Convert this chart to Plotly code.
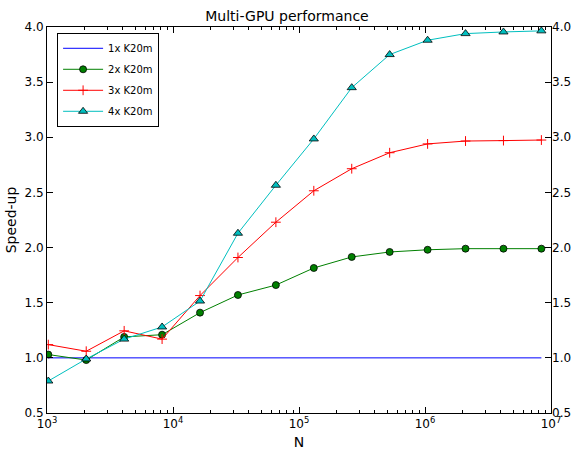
import plotly.graph_objects as go

N = [2**k for k in range(10, 24)]
labels = ["1x K20m", "2x K20m", "3x K20m", "4x K20m"]
s1 = [1.0] * 14
s2 = [1.03, 0.98, 1.19, 1.21, 1.41, 1.57, 1.66, 1.815, 1.915, 1.96, 1.98, 1.99, 1.99, 1.99]
s3 = [1.12, 1.06, 1.245, 1.17, 1.565, 1.91, 2.23, 2.515, 2.715, 2.86, 2.94, 2.966, 2.97, 2.975]
s4 = [0.79, 0.99, 1.17, 1.28, 1.515, 2.13, 2.565, 2.985, 3.45, 3.75, 3.88, 3.94, 3.955, 3.965]
xticks = [1e3, 1e4, 1e5, 1e6, 1e7]
xticktext = ["10<sup>3</sup>", "10<sup>4</sup>", "10<sup>5</sup>", "10<sup>6</sup>", "10<sup>7</sup>"]
xminor = [m * 10**e for e in range(3, 7) for m in range(2, 10)]
yticks = [0.5, 1.0, 1.5, 2.0, 2.5, 3.0, 3.5, 4.0]

font = "DejaVu Sans"
fig = go.Figure()
fig.add_trace(go.Scatter(x=N, y=s1, name=labels[0], mode="lines", legendgroup="a",
                         line=dict(color="#0000FF", width=1)))
fig.add_trace(go.Scatter(x=N, y=s2, name=labels[1], mode="lines+markers", legendgroup="b",
                         line=dict(color="#008000", width=1),
                         marker=dict(symbol="circle", size=7, color="#008000",
                                     line=dict(color="black", width=0.8))))
fig.add_trace(go.Scatter(x=N, y=s3, name=labels[2], mode="lines+markers", legendgroup="c",
                         line=dict(color="#FF0000", width=1),
                         marker=dict(symbol="cross-thin", size=7, color="#FF0000",
                                     line=dict(color="#FF0000", width=1))))
fig.add_trace(go.Scatter(x=N, y=s4, name=labels[3], mode="lines+markers", legendgroup="d",
                         line=dict(color="#00BFBF", width=1),
                         marker=dict(symbol="triangle-up", size=8, color="#00BFBF",
                                     line=dict(color="black", width=0.8))))
fig.add_trace(go.Scatter(x=[N[0]], y=[s1[0]], yaxis="y2", showlegend=False,
                         mode="markers", marker=dict(opacity=0), hoverinfo="skip"))

fig.update_layout(
    width=574, height=455,
    margin=dict(l=47, r=23, t=27, b=42),
    paper_bgcolor="white", plot_bgcolor="white",
    font=dict(family=font, size=12, color="black"),
    title=dict(text="Multi-GPU performance", x=0.5, xanchor="center",
               y=1 - 16/455, yanchor="middle", font=dict(size=14)),
    showlegend=True,
    legend=dict(x=0.02, y=0.985, xanchor="left", yanchor="top",
                bgcolor="white", bordercolor="black", borderwidth=1,
                font=dict(size=10), itemwidth=40, tracegroupgap=2),
    xaxis=dict(type="log", range=[3, 7], tickvals=xticks, ticktext=xticktext,
               ticks="inside", ticklen=6, tickcolor="black", showgrid=False,
               zeroline=False, showline=True, linecolor="black", linewidth=1,
               mirror="ticks", automargin=False,
               minor=dict(tickvals=xminor, ticks="inside", ticklen=3,
                          tickcolor="black", showgrid=False),
               title=dict(text="N", standoff=6)),
    yaxis=dict(range=[0.5, 4.0], tickvals=yticks, tickformat=".1f",
               ticks="inside", ticklen=6, tickcolor="black", showgrid=False,
               zeroline=False, showline=True, linecolor="black", linewidth=1,
               mirror="ticks", automargin=False,
               title=dict(text="Speed-up", standoff=4)),
    yaxis2=dict(range=[0.5, 4.0], tickvals=yticks, tickformat=".1f",
                overlaying="y", side="right", ticks="inside", ticklen=6,
                tickcolor="black", showgrid=False, zeroline=False, showline=False,
                automargin=False),
)
fig.write_html("out.html")
